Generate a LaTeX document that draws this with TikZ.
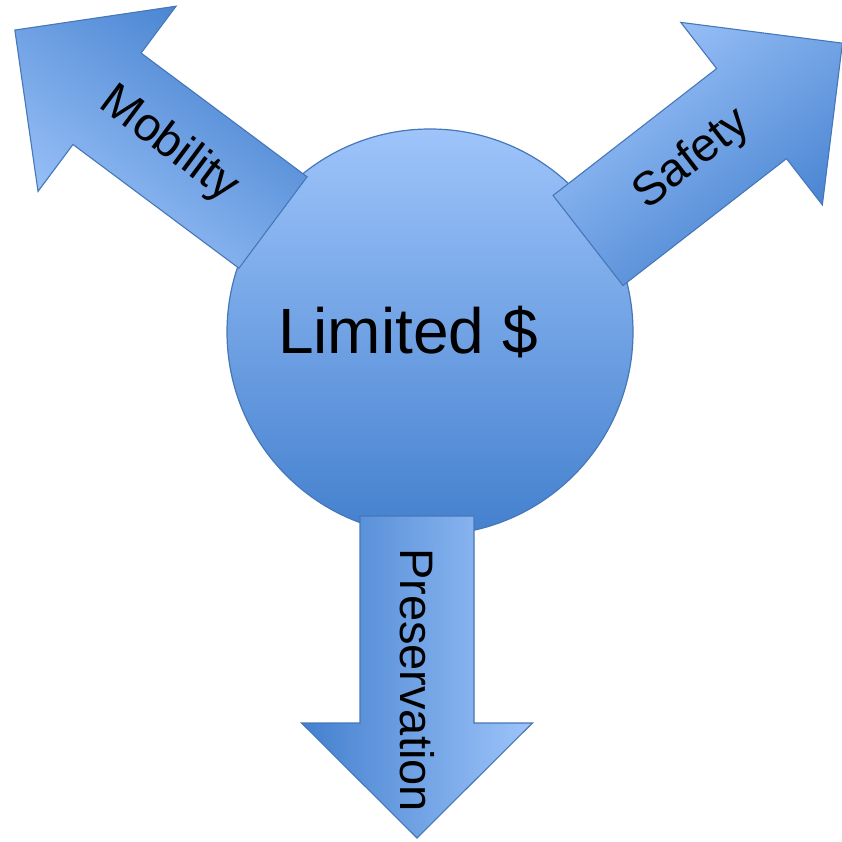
\documentclass[tikz,border=0pt]{standalone}
\usepackage{fontspec}
\setmainfont{Liberation Sans}
\definecolor{lightblue}{HTML}{9EC4FA}
\definecolor{darkblue}{HTML}{4380CE}
\definecolor{edgeblue}{HTML}{4677B8}
\tikzset{
	blockarrow/.style={draw=edgeblue,line width=1.1pt,line join=miter,top color=lightblue,bottom color=darkblue},
	armtext/.style={font=\fontsize{47}{56}\selectfont,inner sep=0pt}
}
\begin{document}
\begin{tikzpicture}[x=1pt,y=1pt]
		\useasboundingbox (0,0) rectangle (842,841);
		\node[circle,minimum size=406pt,draw=edgeblue,line width=1.2pt,top color=lightblue,bottom color=darkblue] (budget) at (430,509) {};
		\node[font=\fontsize{64}{77}\selectfont,anchor=base] (limited) at (408,487) {Limited \$};
		\foreach \n/\x/\y/\a/\dist/\rot/\txt in {mob/273/618.5/143.3/130/-36.7/Mobility,saf/588/600.5/37.8/132/37.8/Safety,pre/417/325/-90/164/-90/Preservation}{
			\begin{scope}[shift={(\x,\y)},rotate=\a]
				\shade[blockarrow,shading angle=\a] (0,-57)--(207,-57)--(207,-115.5)--(322,0)--(207,115.5)--(207,57)--(0,57)--cycle;
				\node[armtext,rotate=\rot] (\n) at (\dist,0) {\txt};
			\end{scope}
		}
	\end{tikzpicture}
\end{document}
